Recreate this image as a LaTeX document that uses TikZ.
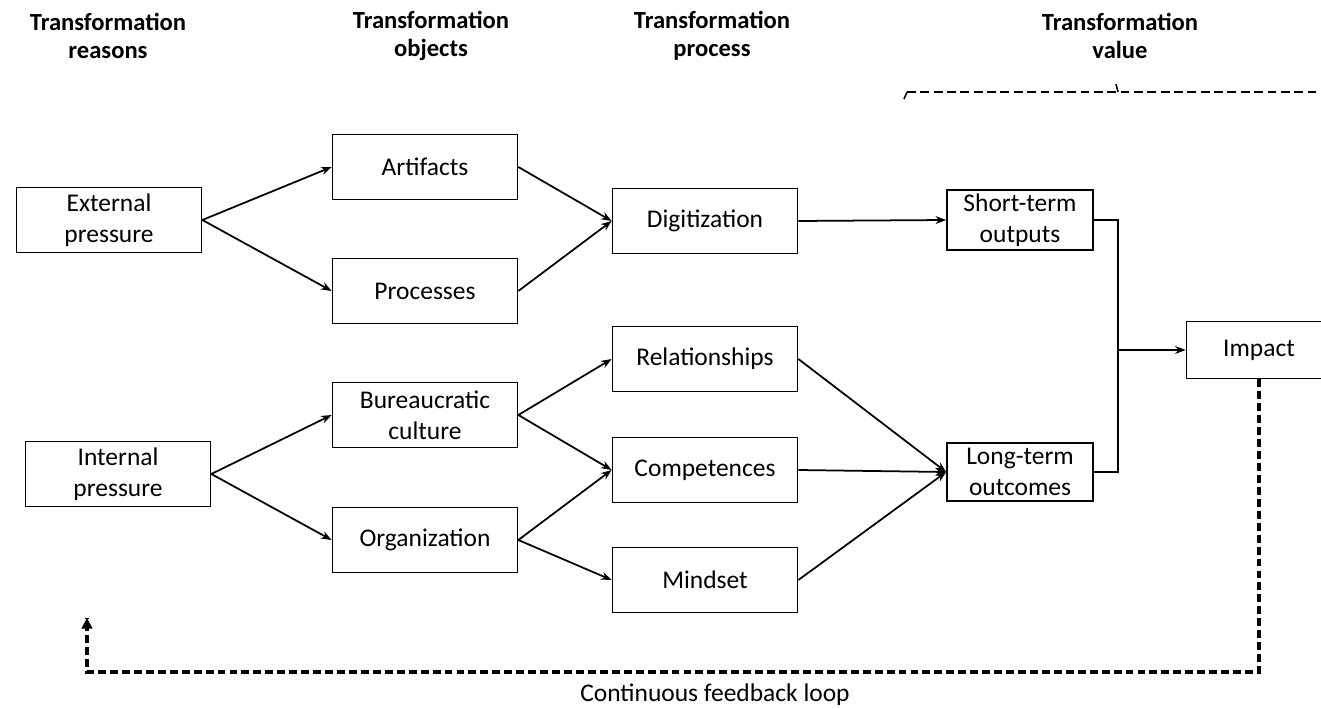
\documentclass[tikz,border=0pt]{standalone}
\usepackage{fontspec}
\setmainfont{Carlito}
\usetikzlibrary{arrows.meta}

\begin{document}
\begin{tikzpicture}[x=0.02cm,y=-0.02cm,
  box/.style={draw, line width=1pt, minimum width=3.7cm, minimum height=1.3cm,
    align=center, inner sep=2pt, font=\fontsize{14.5}{17.5}\selectfont},
  smallbox/.style={box, minimum width=2.92cm, minimum height=1.16cm},
  header/.style={align=center, font=\fontsize{14}{16}\selectfont\bfseries},
  arr/.style={line width=1pt, -{Stealth[length=6pt,width=4.5pt]}},
  fbline/.style={line width=1.8pt, dash pattern=on 4.5pt off 2.3pt}]
\useasboundingbox (0,0) rectangle (1321,709);

% Column headers
\node[header] (hreason) at (108,36) {Transformation\\reasons};
\node[header] (hobject) at (431,36) {Transformation\\objects};
\node[header] (hprocess) at (712,36) {Transformation\\process};
\node[header] (hvalue) at (1120,36) {Transformation\\value};

% Cut-off brace above the value column
\draw[line width=0.9pt, dash pattern=on 5pt off 2.6pt] (907,92) -- (1330,92);
\draw[line width=0.9pt] (907,92) -- (904,99);
\draw[line width=0.9pt] (1116,84) -- (1118,92);

% Reasons
\node[box] (ext) at (109,220) {External\\pressure};
\node[box] (int) at (118,474) {Internal\\pressure};

% Objects
\node[box] (art) at (425,167) {Artifacts};
\node[box] (proc) at (425,291) {Processes};
\node[box] (bur) at (425,415) {Bureaucratic\\culture};
\node[box] (org) at (425,540) {Organization};

% Process
\node[box] (dig) at (705,221) {Digitization};
\node[box] (rel) at (705,359) {Relationships};
\node[box] (comp) at (705,470) {Competences};
\node[box] (mind) at (705,580) {Mindset};

% Value
\node[smallbox] (short) at (1020,220) {Short-term\\outputs};
\node[smallbox] (long) at (1020,472) {Long-term\\outcomes};
\node[smallbox, minimum width=2.9cm, minimum height=1.14cm] (imp) at (1259,350) {Impact};

% Arrows
\foreach \a/\b in {ext/art, ext/proc, art/dig, proc/dig,
                   int/bur, int/org, bur/rel, bur/comp, org/comp, org/mind,
                   dig/short, rel/long, comp/long, mind/long} {
  \draw[arr] (\a.east) -- (\b.west);
}

% Outputs and outcomes join into the impact
\coordinate (join) at (1118,350);
\draw[line width=1pt] (short.east) -| (join) |- (long.east);
\draw[arr] (join) -- (imp.west);

% Feedback loop
\coordinate (fbbottom) at (87,672);
\coordinate (fbend) at (87,618);
\draw[fbline] (imp.south) |- (fbbottom) -- (fbend);
\draw[line width=1.8pt, -{Triangle[length=6pt,width=6pt]}] (87,626) -- (fbend);
\node[font=\fontsize{14.5}{17.5}\selectfont] (fblabel) at (715,695) {Continuous feedback loop};

\end{tikzpicture}
\end{document}
